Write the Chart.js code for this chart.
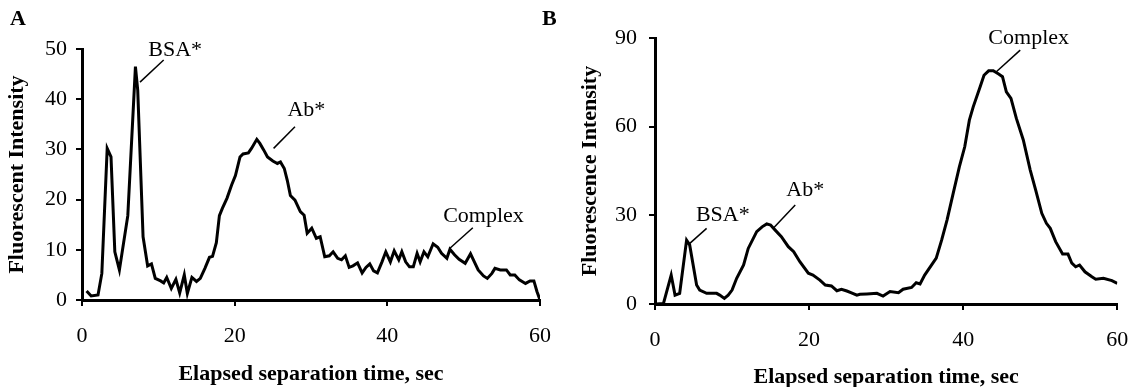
<!DOCTYPE html>
<html>
<head>
<meta charset="utf-8">
<script src="https://cdn.jsdelivr.net/npm/chart.js@4.4.0/dist/chart.umd.min.js"></script>
<style>
  body { margin: 0; background: #fff; }
  .panel { position: absolute; top: 0; height: 387px; }
  .tag { position: absolute; top: 6px; font: bold 22px "Liberation Serif"; line-height: 24px; color: #000; }
</style>
</head>
<body>
<div class="panel" style="left:0;width:560px"><canvas id="chartA" width="560" height="387"></canvas></div>
<div class="panel" style="left:560px;width:570px"><canvas id="chartB" width="570" height="387"></canvas></div>
<div class="tag" style="left:10px">A</div>
<div class="tag" style="left:542px">B</div>
<script>
// Panel A: Zeit (s) und Fluoreszenzsignal
const zeitA = [0.6, 1.2, 2.1, 2.6, 3.3, 3.8, 4.3, 4.9, 6.0, 7.0, 7.3, 8.0, 8.6, 9.1, 9.6,
  10.3, 10.7, 11.1, 11.7, 12.3, 12.8, 13.4, 13.8, 14.4, 15.0, 15.5, 16.1, 16.7, 17.1, 17.6,
  18.0, 18.4, 19.0, 19.6, 20.1, 20.7, 21.1, 21.8, 22.2, 22.9, 23.3, 23.8, 24.3, 25.0, 25.6,
  26.0, 26.5, 26.9, 27.3, 27.9, 28.6, 29.1, 29.5, 30.1, 30.7, 31.2, 31.8, 32.4, 32.9, 33.5,
  34.0, 34.5, 35.0, 35.5, 36.1, 36.7, 37.2, 37.7, 38.2, 38.7, 39.3, 39.8, 40.4, 40.9, 41.5,
  41.9, 42.4, 42.9, 43.4, 43.9, 44.3, 44.8, 45.3, 46.0, 46.6, 47.1, 47.8, 48.2, 48.8, 49.4,
  50.2, 50.9, 51.4, 51.9, 52.6, 53.1, 53.7, 54.1, 54.8, 55.6, 56.1, 56.7, 57.3, 58.1, 58.7,
  59.2, 59.6, 60.0];
const signalA = [1.8, 0.8, 1.0, 5.3, 30.2, 28.5, 9.6, 6.0, 16.8, 46.5, 41.8, 12.6, 6.8, 7.2, 4.3,
  3.8, 3.4, 4.5, 2.3, 4.1, 1.4, 5.0, 1.3, 4.5, 3.7, 4.3, 6.3, 8.5, 8.7, 11.4,
  16.8, 18.3, 20.3, 22.9, 24.8, 28.5, 29.1, 29.3, 30.2, 32.0, 31.2, 29.9, 28.5, 27.7, 27.2,
  27.5, 26.2, 23.8, 20.8, 19.9, 17.6, 16.9, 13.3, 14.3, 12.3, 12.6, 8.6, 8.8, 9.6, 8.3,
  8.0, 8.8, 6.5, 6.8, 7.4, 5.4, 6.5, 7.2, 5.8, 5.4, 7.6, 9.6, 7.6, 9.8, 8.0,
  9.6, 7.6, 6.6, 6.6, 9.3, 7.6, 9.6, 8.6, 11.2, 10.5, 9.3, 8.3, 10.1, 9.0, 8.1,
  7.3, 9.2, 7.6, 6.0, 4.8, 4.3, 5.3, 6.3, 6.0, 6.0, 5.0, 5.0, 4.0, 3.3, 3.8,
  3.8, 1.7, 0];

// Panel B
const zeitB = [0.2, 1.1, 2.1, 2.6, 3.2, 4.1, 4.5, 5.4, 5.8, 6.7, 8.0, 8.4, 9.0, 9.5, 10.0,
  10.6, 11.5, 12.1, 13.2, 13.9, 14.5, 15.0, 15.6, 16.4, 17.3, 18.0, 18.8, 19.9, 20.5, 21.4,
  22.1, 22.9, 23.6, 24.2, 24.9, 25.5, 26.2, 26.6, 27.5, 28.8, 29.6, 30.5, 31.6, 32.2, 33.3,
  33.9, 34.4, 35.0, 36.5, 37.2, 37.9, 38.7, 39.5, 40.2, 40.8, 41.3, 42.2, 42.7, 43.3, 43.9,
  44.6, 45.1, 45.6, 46.2, 46.9, 47.8, 48.7, 49.4, 50.2, 50.8, 51.3, 52.0, 52.9, 53.6, 54.1,
  54.6, 55.1, 55.8, 56.7, 57.2, 58.2, 59.3, 60.0];
const signalB = [0, 0.2, 9.8, 3.0, 3.6, 21.6, 20.0, 6.4, 4.7, 3.6, 3.6, 3.0, 1.9, 3.0, 4.7,
  8.7, 13.2, 18.8, 24.5, 26.1, 27.1, 26.7, 25.0, 22.8, 19.4, 17.7, 14.3, 10.4, 9.8, 8.1,
  6.4, 6.1, 4.5, 5.0, 4.4, 3.8, 3.0, 3.3, 3.4, 3.6, 2.7, 4.2, 3.8, 5.0, 5.6,
  7.2, 6.8, 9.8, 15.5, 21.6, 28.4, 37.4, 46.4, 53.2, 62.2, 66.7, 73.5, 77.4, 78.9, 78.9,
  77.8, 76.9, 71.8, 69.6, 62.8, 55.5, 45.3, 38.6, 30.7, 27.3, 25.6, 21.1, 16.9, 16.9, 13.8,
  12.6, 13.2, 10.9, 9.2, 8.4, 8.7, 7.9, 7.0];

// Achsen-Ticks
const xTicks = [0, 20, 40, 60];
const yTicksA = [0, 10, 20, 30, 40, 50];
const yTicksB = [0, 30, 60, 90];

// Peak-Beschriftungen (Datenkoordinaten)
const peakNamenA = ["BSA*", "Ab*", "Complex"];
const textPosA = [[12.2, 49.8], [29.4, 37.8], [52.6, 16.6]];
const linienA = [[7.6, 43.4, 10.7, 47.8], [25.1, 30.2, 27.9, 34.5], [48.2, 10.3, 51.2, 14.4]];

const peakNamenB = ["BSA*", "Ab*", "Complex"];
const textPosB = [[8.8, 30.1], [19.5, 38.6], [48.5, 89.9]];
const linienB = [[4.3, 20.0, 6.7, 25.6], [15.35, 25.6, 18.2, 33.5], [44.3, 78.6, 47.4, 85.9]];

const serif = "Liberation Serif";

// Beschriftungen und Hinweislinien zeichnen
const peakLabels = {
  id: "peakLabels",
  afterDatasetsDraw(chart, args, opts) {
    const { ctx, scales: { x, y } } = chart;
    ctx.save();
    ctx.strokeStyle = "#000";
    ctx.lineWidth = 1.5;
    opts.linien.forEach((l) => {
      ctx.beginPath();
      ctx.moveTo(x.getPixelForValue(l[0]), y.getPixelForValue(l[1]));
      ctx.lineTo(x.getPixelForValue(l[2]), y.getPixelForValue(l[3]));
      ctx.stroke();
    });
    ctx.fillStyle = "#000";
    ctx.font = `22px "${serif}"`;
    ctx.textAlign = "center";
    ctx.textBaseline = "middle";
    opts.namen.forEach((n, i) => {
      ctx.fillText(n, x.getPixelForValue(opts.pos[i][0]), y.getPixelForValue(opts.pos[i][1]));
    });
    ctx.restore();
  },
};

function baueChart(id, zeit, signal, yTicks, yTitel, cfg) {
  const punkte = zeit.map((t, i) => ({ x: t, y: signal[i] }));
  return new Chart(document.getElementById(id), {
    type: "line",
    data: {
      datasets: [{
        data: punkte,
        borderColor: "#000",
        borderWidth: 3,
        pointRadius: 0,
        tension: 0,
        fill: false,
      }],
    },
    options: {
      responsive: false,
      animation: false,
      layout: { padding: { left: 0, top: cfg.top, right: cfg.right, bottom: 0 } },
      plugins: {
        legend: { display: false },
        tooltip: { enabled: false },
        peakLabels: { namen: cfg.namen, pos: cfg.pos, linien: cfg.linien },
      },
      scales: {
        x: {
          type: "linear",
          min: 0,
          max: 60,
          afterBuildTicks: (s) => { s.ticks = xTicks.map((v) => ({ value: v })); },
          afterFit: (s) => {
            s.height = cfg.xHoehe;
            // Label-Überhang nicht zusätzlich einrechnen
            s.paddingLeft = 0;
            s.paddingRight = 0;
          },
          grid: { display: true, drawOnChartArea: false, drawTicks: true, tickLength: 6, color: "#000", lineWidth: 2 },
          border: { display: true, color: "#000", width: 3 },
          ticks: { color: "#000", padding: 17, font: { family: serif, size: 22 } },
          title: {
            display: true,
            text: "Elapsed separation time, sec",
            color: "#000",
            padding: { top: 0, bottom: cfg.xTitelPad },
            font: { family: serif, size: 22, weight: "bold" },
          },
        },
        y: {
          min: 0,
          max: yTicks[yTicks.length - 1],
          afterBuildTicks: (s) => { s.ticks = yTicks.map((v) => ({ value: v })); },
          afterFit: (s) => { s.width = cfg.yBreite; },
          grid: { display: true, drawOnChartArea: false, drawTicks: true, tickLength: 6, color: "#000", lineWidth: 2 },
          border: { display: true, color: "#000", width: 3 },
          ticks: { color: "#000", padding: cfg.yPad, font: { family: serif, size: 22 } },
          title: {
            display: true,
            text: yTitel,
            color: "#000",
            padding: { top: cfg.yTitelPad, bottom: 0 },
            font: { family: serif, size: 22, weight: "bold" },
          },
        },
      },
    },
    plugins: [peakLabels],
  });
}

baueChart("chartA", zeitA, signalA, yTicksA, "Fluorescent Intensity", {
  top: 49, right: 20, xHoehe: 87, yBreite: 82, yPad: 9, yTitelPad: 4.3, xTitelPad: -1,
  namen: peakNamenA, pos: textPosA, linien: linienA,
});

baueChart("chartB", zeitB, signalB, yTicksB, "Fluorescence Intensity", {
  top: 38, right: 12.7, xHoehe: 83, yBreite: 95, yPad: 12, yTitelPad: 16.8, xTitelPad: -4,
  namen: peakNamenB, pos: textPosB, linien: linienB,
});
</script>
</body>
</html>
